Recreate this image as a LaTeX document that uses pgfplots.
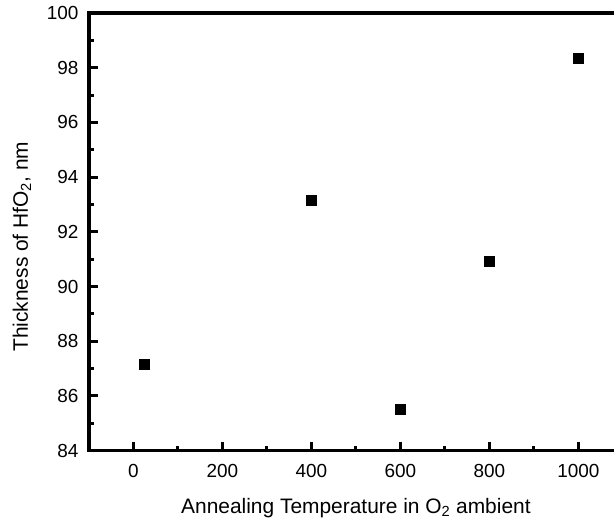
\documentclass[border=0pt]{standalone}
\usepackage{fontspec}
\setmainfont{Liberation Sans}
\usepackage{pgfplots}
\pgfplotsset{compat=1.18}
\usetikzlibrary{calc}
\begin{document}
\begin{tikzpicture}
\begin{axis}[
  scale only axis,
  width=533.8bp, height=437.7bp,
  xmin=-100, xmax=1100, ymin=84, ymax=100,
  xtick={0,200,...,1000}, ytick={84,86,...,100},
  minor x tick num=1, minor y tick num=1,
  xtick pos=bottom, ytick pos=left,
  tick align=inside,
  major tick length=9bp, minor tick length=5bp,
  line width=3.2bp,
  every tick/.append style={line width=3bp, black},
  every major tick/.append style={line width=3bp},
  every minor tick/.append style={line width=3bp},
  /pgf/number format/assume math mode=true,
  /pgf/number format/1000 sep={},
  tick label style={font=\fontsize{19}{19}\selectfont, inner sep=0pt},
  xticklabel style={yshift=-12bp},
  yticklabel style={xshift=-9bp},
  label style={font=\fontsize{21}{21}\selectfont, inner sep=0pt},
  xlabel={Annealing Temperature in O\textsubscript{2} ambient},
  ylabel={Thickness of HfO\textsubscript{2}, nm},
  xlabel style={at={(axis description cs:0.5,-0.1051)}, anchor=north},
  ylabel style={at={(axis description cs:-0.1143,0.466)}, anchor=base, rotate=0},
]
\addplot[only marks, mark=square*, mark size=5bp, black, line width=0.4pt] coordinates {
  (25,87.17) (400,93.14) (600,85.52) (800,90.92) (1000,98.35)
};
\coordinate (bl) at (rel axis cs:0,0);
\coordinate (tl) at (rel axis cs:0,1);
\end{axis}
\pgfresetboundingbox
\path[use as bounding box] ($(bl)+(-89bp,-70bp)$) rectangle ($(tl)+(525bp,13bp)$);
\end{tikzpicture}
\end{document}
